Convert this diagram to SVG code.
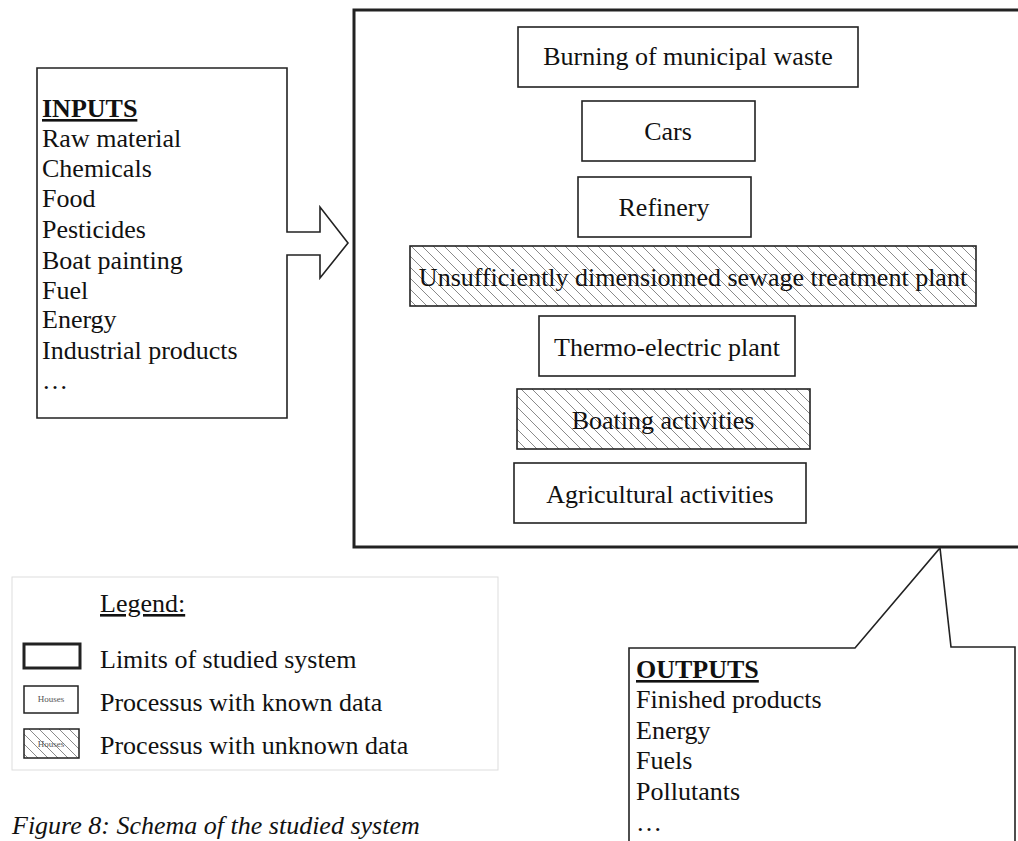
<svg xmlns="http://www.w3.org/2000/svg" width="1018" height="841" viewBox="0 0 1018 841">
<style>
text{font-family:"Liberation Serif","Times New Roman",serif;fill:#111}
.t{font-size:26px}
.c{text-anchor:middle}
.box{fill:#fff;stroke:#222;stroke-width:1.6}
.hbox{fill:url(#hatch);stroke:#222;stroke-width:1.6}
.call{fill:#fff;stroke:#222;stroke-width:1.6;stroke-linejoin:miter}
.b{font-weight:bold;text-decoration:underline}
.tiny{font-size:9px;fill:#555}
</style>
<defs>
<pattern id="hatch" patternUnits="userSpaceOnUse" width="11" height="11">
<rect width="11" height="11" fill="#fff"/>
<path d="M-1,-1 L12,12 M-1,10 L1,12 M10,-1 L12,1" stroke="#8a8a8a" stroke-width="1"/>
</pattern>
<pattern id="hatchS" patternUnits="userSpaceOnUse" width="10" height="10">
<rect width="10" height="10" fill="#fff"/>
<path d="M-1,-1 L11,11 M-1,9 L1,11 M9,-1 L11,1" stroke="#8a8a8a" stroke-width="1"/>
</pattern>
</defs>
<rect width="1018" height="841" fill="#fff"/>

<g id="system">
<rect x="354" y="10" width="720" height="537" fill="#fff" stroke="#222" stroke-width="3"/>
</g>

<g id="inputs">
<path class="call" d="M37,68 H287 V232 H320 V207 L348,243 L320,278 V255 H287 V418 H37 Z"/>
<text class="t b" x="42" y="117">INPUTS</text>
<text class="t" x="42" y="147">Raw material</text>
<text class="t" x="42" y="177">Chemicals</text>
<text class="t" x="42" y="207">Food</text>
<text class="t" x="42" y="238">Pesticides</text>
<text class="t" x="42" y="269">Boat painting</text>
<text class="t" x="42" y="299">Fuel</text>
<text class="t" x="42" y="328">Energy</text>
<text class="t" x="42" y="359">Industrial products</text>
<text class="t" x="42" y="389">…</text>
</g>

<g id="p1"><rect class="box" x="518" y="27" width="340" height="60"/><text class="t c" x="688" y="65">Burning of municipal waste</text></g>
<g id="p2"><rect class="box" x="582" y="101" width="173" height="60"/><text class="t c" x="668" y="140">Cars</text></g>
<g id="p3"><rect class="box" x="578" y="177" width="173" height="60"/><text class="t c" x="664" y="216">Refinery</text></g>
<g id="p4"><rect class="hbox" x="410" y="246" width="566" height="60"/><text class="t c" x="693" y="286">Unsufficiently dimensionned sewage treatment plant</text></g>
<g id="p5"><rect class="box" x="539" y="316" width="256" height="60"/><text class="t c" x="667" y="356">Thermo-electric plant</text></g>
<g id="p6"><rect class="hbox" x="517" y="389" width="293" height="60"/><text class="t c" x="663" y="429">Boating activities</text></g>
<g id="p7"><rect class="box" x="514" y="463" width="292" height="60"/><text class="t c" x="660" y="503">Agricultural activities</text></g>

<g id="outputs">
<path class="call" d="M629,845 V648 H855 L940,548 L951,647 H1015 V845"/>
<text class="t b" x="636" y="678">OUTPUTS</text>
<text class="t" x="636" y="708">Finished products</text>
<text class="t" x="636" y="739">Energy</text>
<text class="t" x="636" y="769">Fuels</text>
<text class="t" x="636" y="800">Pollutants</text>
<text class="t" x="636" y="831">…</text>
</g>

<g id="legend">
<rect x="12" y="577" width="486" height="193" fill="#fff" stroke="#ddd" stroke-width="1"/>
<text class="t" x="100" y="612" text-decoration="underline">Legend:</text>
<rect x="24" y="644" width="56" height="24" fill="#fff" stroke="#222" stroke-width="3"/>
<text class="t" x="100" y="668">Limits of studied system</text>
<rect x="24" y="686" width="54" height="27" fill="#fff" stroke="#222" stroke-width="1.5"/>
<text class="tiny" x="51" y="702" text-anchor="middle">Houses</text>
<text class="t" x="100" y="711">Processus with known data</text>
<rect x="24" y="729" width="55" height="29" fill="url(#hatchS)" stroke="#222" stroke-width="1.5"/>
<text class="tiny" x="51" y="747" text-anchor="middle">Houses</text>
<text class="t" x="100" y="754">Processus with unknown data</text>
</g>

<text x="12" y="834" font-size="26" font-style="italic">Figure 8: Schema of the studied system</text>
</svg>
